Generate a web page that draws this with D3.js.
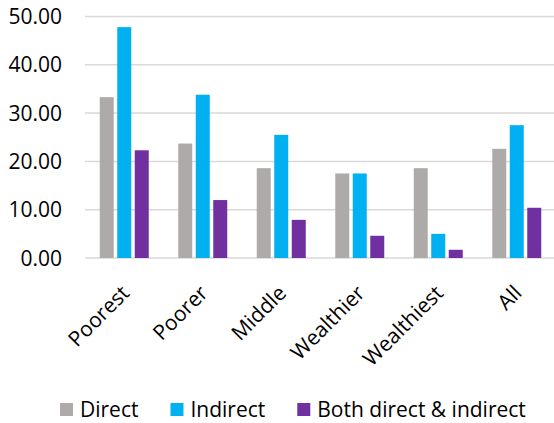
<!DOCTYPE html>
<html>
<head>
<meta charset="utf-8">
<script src="https://cdn.jsdelivr.net/npm/d3@7"></script>
<style>
  body { margin: 0; background: #fff; }
  text { font-family: "Open Sans", sans-serif; fill: #000; }
</style>
</head>
<body>
<svg id="chart" width="554" height="423"></svg>
<script>
// wealth groups
var categories = ["Poorest", "Poorer", "Middle", "Wealthier", "Wealthiest", "All"];
var seriesNames = ["Direct", "Indirect", "Both direct & indirect"];
var direct   = [33.3, 23.7, 18.6, 17.5, 18.6, 22.6];
var indirect = [47.8, 33.8, 25.5, 17.5, 5.0, 27.5];
var both     = [22.3, 12.0, 7.9, 4.6, 1.7, 10.4];
var yTicks = [0, 10, 20, 30, 40, 50];
var colors = ["#AEAAAA", "#00B0F0", "#7030A0"];

var values = [direct, indirect, both];

var svg = d3.select("#chart");
var plotLeft = 85, plotRight = 556, plotTop = 16.5, plotBottom = 258;

var x = d3.scaleBand().domain(categories).range([plotLeft, plotRight]).padding(0);
var xs = d3.scaleBand().domain(seriesNames).range([0, x.bandwidth()])
    .paddingInner(0.2).paddingOuter(0.843);
var y = d3.scaleLinear().domain([0, 50]).range([plotBottom, plotTop]);
var color = d3.scaleOrdinal().domain(seriesNames).range(colors);

// gridlines
svg.selectAll("line.grid").data(yTicks).enter().append("line")
    .attr("class", "grid")
    .attr("x1", plotLeft).attr("x2", 554)
    .attr("y1", function(d) { return y(d); })
    .attr("y2", function(d) { return y(d); })
    .attr("stroke", "#D9D9D9")
    .attr("stroke-width", 1.5);

// y labels
svg.selectAll("text.ytick").data(yTicks).enter().append("text")
    .attr("class", "ytick")
    .attr("x", 62)
    .attr("y", function(d) { return y(d); })
    .attr("dy", "0.36em")
    .attr("text-anchor", "end")
    .style("font-size", "21px")
    .text(function(d) { return d3.format(".2f")(d); });

// bars
var rows = [];
categories.forEach(function(c, i) {
    seriesNames.forEach(function(s, j) {
        rows.push({cat: c, series: s, value: values[j][i]});
    });
});

svg.selectAll("rect.bar").data(rows).enter().append("rect")
    .attr("class", "bar")
    .attr("x", function(d) { return x(d.cat) + xs(d.series); })
    .attr("width", xs.bandwidth())
    .attr("y", function(d) { return y(d.value); })
    .attr("height", function(d) { return y(0) - y(d.value); })
    .attr("fill", function(d) { return color(d.series); });

// category labels, rotated
svg.selectAll("text.xlab").data(categories).enter().append("text")
    .attr("class", "xlab")
    .attr("text-anchor", "end")
    .attr("transform", function(d) {
        return "translate(" + (x(d) + x.bandwidth() / 2 + 1) + "," + 289 + ") rotate(-45)";
    })
    .attr("dy", "0.36em")
    .style("font-size", "21px")
    .text(function(d) { return d; });

// legend
var lx = 60;
var legend = svg.append("g");
seriesNames.forEach(function(s) {
    legend.append("rect")
        .attr("x", lx).attr("y", 403)
        .attr("width", 13).attr("height", 13)
        .attr("fill", color(s));
    var t = legend.append("text")
        .attr("x", lx + 20).attr("y", 409.5)
        .attr("dy", "0.36em")
        .style("font-size", "21px")
        .text(s);
    lx += 20 + t.node().getComputedTextLength() + 32;
});
</script>
</body>
</html>
